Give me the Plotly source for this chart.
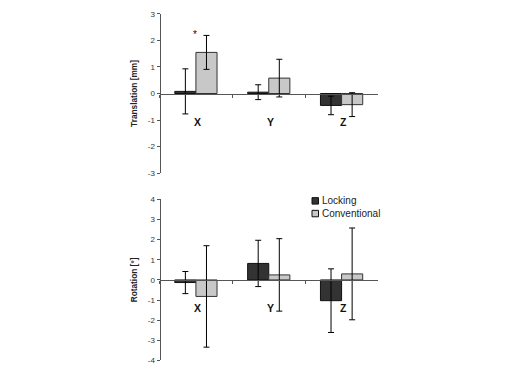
import plotly.graph_objects as go

categories = ["X", "Y", "Z"]

trans_locking = [0.08, 0.05, -0.45]
trans_locking_err = [0.85, 0.28, 0.35]
trans_conv = [1.55, 0.58, -0.42]
trans_conv_err = [0.64, 0.71, 0.45]

rot_locking = [-0.13, 0.82, -1.03]
rot_locking_err = [0.55, 1.15, 1.58]
rot_conv = [-0.82, 0.25, 0.30]
rot_conv_err = [2.52, 1.80, 2.28]

trans_ticks = [3, 2, 1, 0, -1, -2, -3]
rot_ticks = [4, 3, 2, 1, 0, -1, -2, -3, -4]

series_names = ["Locking", "Conventional"]

DARK = "#333333"
LIGHT = "#c8c8c8"
FONT = "Liberation Sans, Arial, sans-serif"

# page has an 8px body margin; figure drawn in 504x376
W, H, OFF = 504, 376, 8
def px(xp):
    return (xp - OFF) / W
def py(yp):
    return 1 - (yp - OFF) / H

fig = go.Figure()

def add_pair(loc, loc_err, conv, conv_err, xa, ya):
    fig.add_trace(go.Bar(x=categories, y=loc, name=series_names[0],
                         marker=dict(color=DARK, line=dict(color="#111111", width=1)),
                         error_y=dict(type="data", array=loc_err, color="black", thickness=1, width=3),
                         xaxis=xa, yaxis=ya, showlegend=False))
    fig.add_trace(go.Bar(x=categories, y=conv, name=series_names[1],
                         marker=dict(color=LIGHT, line=dict(color="#333333", width=1)),
                         error_y=dict(type="data", array=conv_err, color="black", thickness=1, width=3),
                         xaxis=xa, yaxis=ya, showlegend=False))

add_pair(trans_locking, trans_locking_err, trans_conv, trans_conv_err, "x", "y")
add_pair(rot_locking, rot_locking_err, rot_conv, rot_conv_err, "x2", "y2")

xdom = [px(159.5), px(378)]
top_dom = [py(173), py(10)]
bot_dom = [py(365), py(200)]
top_range = [-3, 3]
bot_range = [-4, 4]

def zero_pos(dom, rng):
    return dom[0] + (0 - rng[0]) / (rng[1] - rng[0]) * (dom[1] - dom[0])

xaxis_common = dict(type="category", domain=xdom, showline=True, linecolor="#555555", linewidth=1,
                    ticks="outside", tickson="boundaries", ticklen=3, tickcolor="#555555",
                    showticklabels=False, showgrid=False, zeroline=False, anchor="free")
yaxis_common = dict(showline=True, linecolor="#555555", linewidth=1, ticks="outside",
                    ticklen=3, tickcolor="#555555", showgrid=False, zeroline=False,
                    tickfont=dict(family=FONT, size=8, color="#333333"), anchor="free", position=xdom[0])
title_font = dict(family=FONT, size=8.3, color="#222222")

fig.update_layout(
    width=W, height=H,
    margin=dict(l=0, r=0, t=0, b=0),
    paper_bgcolor="white", plot_bgcolor="white",
    barmode="group", bargap=0.42, bargroupgap=0.0,
    font=dict(family=FONT, size=8, color="#222222"),
    showlegend=False,
    xaxis=dict(**xaxis_common, position=zero_pos(top_dom, top_range)),
    xaxis2=dict(**xaxis_common, position=zero_pos(bot_dom, bot_range)),
    yaxis=dict(**yaxis_common, domain=top_dom, range=top_range,
               tickvals=trans_ticks, ticktext=[str(t) for t in trans_ticks],
               title=dict(text="<b>Translation [mm]</b>", font=title_font, standoff=7)),
    yaxis2=dict(**yaxis_common, domain=bot_dom, range=bot_range,
                tickvals=rot_ticks, ticktext=[str(t) for t in rot_ticks],
                title=dict(text="<b>Rotation [°]</b>", font=title_font, standoff=7)),
)

# category labels
for c in categories:
    fig.add_annotation(x=c, y=-1.07, xref="x", yref="y", text="<b>%s</b>" % c, showarrow=False,
                       xshift=2, font=dict(family=FONT, size=10.5, color="#111111"))
    fig.add_annotation(x=c, y=-1.4, xref="x2", yref="y2", text="<b>%s</b>" % c, showarrow=False,
                       xshift=2, font=dict(family=FONT, size=10.5, color="#111111"))

# significance marker
fig.add_annotation(x="X", y=2.22, xref="x", yref="y", xshift=-1, text="*", showarrow=False,
                   font=dict(family=FONT, size=10, color="#111111"))

# legend (drawn as a compact key like the original)
legend_rows = [(series_names[0], DARK, 201.5), (series_names[1], LIGHT, 214.5)]
for name, col, yc in legend_rows:
    fig.add_shape(type="rect", xref="paper", yref="paper",
                  x0=px(312), x1=px(318.5), y0=py(yc - 3.3), y1=py(yc + 3.3),
                  fillcolor=col, line=dict(color="#111111", width=1))
    fig.add_annotation(x=px(319.5), y=py(yc), xref="paper", yref="paper", xanchor="left", yanchor="middle",
                       text=name, showarrow=False, font=dict(family=FONT, size=10, color="#222222"))

fig.write_html("out.html")
